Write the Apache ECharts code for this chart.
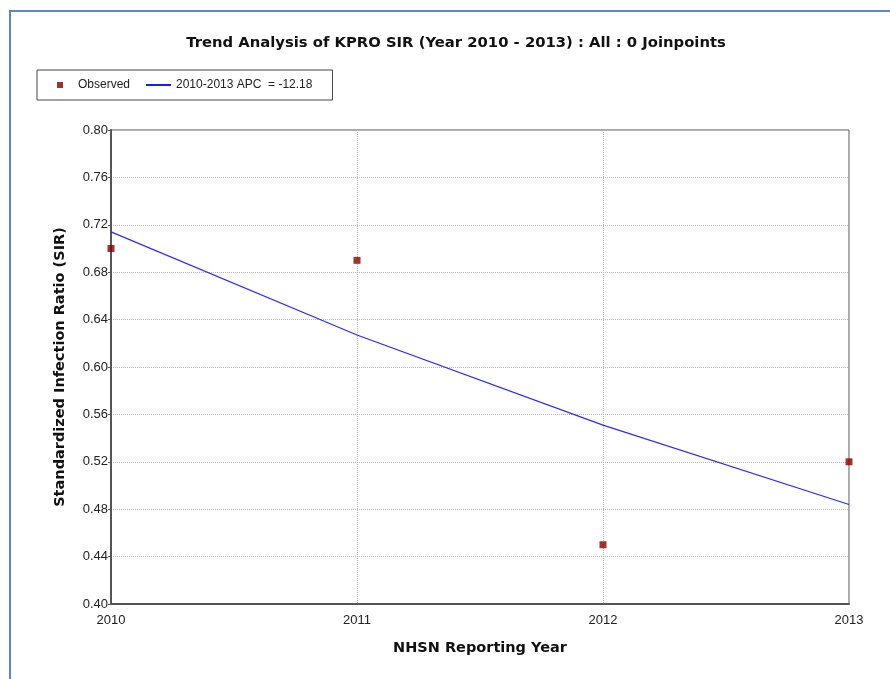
<!DOCTYPE html>
<html>
<head>
<meta charset="utf-8">
<script src="https://cdn.jsdelivr.net/npm/echarts@6/dist/echarts.min.js"></script>
<style>
  html, body { margin: 0; padding: 0; background: #fff; }
  #trend_chart { width: 890px; height: 679px; }
</style>
</head>
<body>
<div id="trend_chart"></div>
<script>
// Chart data
// ------------------------------

var years = [2010, 2011, 2012, 2013];
var observedSir = [0.70, 0.69, 0.45, 0.52];
var fittedSir = [0.714, 0.627, 0.551, 0.484];
var yTicks = [0.40, 0.44, 0.48, 0.52, 0.56, 0.60, 0.64, 0.68, 0.72, 0.76, 0.80];

var observedName = 'Observed';
var fittedName = '2010-2013 APC  = -12.18';


// Setup chart
// ------------------------------

var TrendChart = function() {

    var _trendChart = function() {
        if (typeof echarts == 'undefined') {
            console.warn('Warning - echarts.min.js is not loaded.');
            return;
        }

        var trend_element = document.getElementById('trend_chart');
        if (!trend_element) return;

        var trend_chart = echarts.init(trend_element, null, { renderer: 'canvas' });

        // Pair years with values
        var observedData = years.map(function(y, i) { return [y, observedSir[i]]; });
        var fittedData = years.map(function(y, i) { return [y, fittedSir[i]]; });

        var labelFont = {
            fontFamily: '"Liberation Sans", Arial, sans-serif',
            fontSize: 13,
            color: '#222'
        };

        var legendFont = {
            fontFamily: '"Liberation Sans", Arial, sans-serif',
            fontSize: 12,
            color: '#222'
        };

        var boldName = {
            fontFamily: '"DejaVu Sans", Verdana, sans-serif',
            fontWeight: 'bold',
            fontSize: 14.5,
            color: '#111'
        };

        var gridLine = {
            show: true,
            lineStyle: { color: '#b8b8b8', type: [1, 1], width: 1 }
        };

        trend_chart.setOption({
            animation: false,
            backgroundColor: '#fff',

            title: {
                text: 'Trend Analysis of KPRO SIR (Year 2010 - 2013) : All : 0 Joinpoints',
                left: 451,
                top: 31,
                textAlign: 'center',
                textStyle: Object.assign({}, boldName, { fontSize: 14.8 })
            },

            legend: {
                left: 37,
                top: 70,
                padding: [8, 20, 8, 11],
                itemGap: 16,
                itemWidth: 25,
                itemHeight: 14,
                borderColor: '#444',
                borderWidth: 1,
                selectedMode: false,
                textStyle: legendFont,
                data: [
                    { name: observedName, icon: 'path://M0,0M25,14M9,4h6v6h-6z' },
                    { name: fittedName, icon: 'path://M0,0M25,14M0,6h25v2h-25z' }
                ]
            },

            // Outer frame
            graphic: [{
                type: 'rect',
                shape: { x: 10, y: 11, width: 1000, height: 1000 },
                style: { fill: 'none', stroke: '#5b87c5', lineWidth: 2 },
                silent: true
            }],

            grid: {
                left: 111,
                right: 41,
                top: 130,
                bottom: 75,
                show: true,
                borderColor: '#555',
                borderWidth: 1,
                containLabel: false
            },

            xAxis: {
                type: 'value',
                min: years[0],
                max: years[years.length - 1],
                interval: 1,
                name: 'NHSN Reporting Year',
                nameLocation: 'middle',
                nameGap: 37,
                nameTextStyle: boldName,
                axisLine: { show: true, lineStyle: { color: '#555', width: 2 } },
                axisTick: { show: false },
                axisLabel: Object.assign({ margin: 10, formatter: function(v) { return String(v); } }, labelFont),
                splitLine: gridLine
            },

            yAxis: {
                type: 'value',
                min: yTicks[0],
                max: yTicks[yTicks.length - 1],
                interval: 0.04,
                name: 'Standardized Infection Ratio (SIR)',
                nameLocation: 'middle',
                nameGap: 43,
                nameTextStyle: boldName,
                axisLine: { show: true, lineStyle: { color: '#555', width: 2 } },
                axisTick: { show: true, length: 3, lineStyle: { color: '#555' } },
                axisLabel: Object.assign({ margin: 3, formatter: function(v) { return v.toFixed(2); } }, labelFont),
                splitLine: gridLine
            },

            series: [
                {
                    name: observedName,
                    type: 'scatter',
                    symbol: 'rect',
                    symbolSize: 7,
                    itemStyle: { color: '#8b0000' },
                    z: 4,
                    data: observedData
                },
                {
                    name: fittedName,
                    type: 'line',
                    symbol: 'none',
                    lineStyle: { color: '#2a2aff', width: 1.2 },
                    itemStyle: { color: '#1a1aff' },
                    z: 3,
                    data: fittedData
                }
            ]
        });
    };

    return {
        init: function() {
            _trendChart();
        }
    }
}();

document.addEventListener('DOMContentLoaded', function() {
    TrendChart.init();
});
</script>
</body>
</html>
